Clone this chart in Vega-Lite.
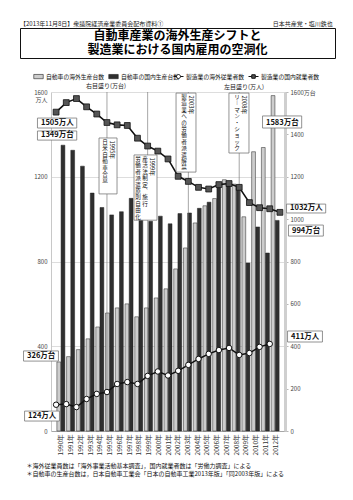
{
  "$schema": "https://vega.github.io/schema/vega-lite/v6.json",
  "autosize": {"type": "pad"},
  "padding": {"left": 19, "right": 18, "top": 20, "bottom": 22},
  "background": "white",
  "config": {
    "font": "Noto Sans CJK JP",
    "view": {"stroke": null},
    "legend": {"labelFont": "Noto Sans CJK JP", "titleFont": "Noto Sans CJK JP"},
    "axis": {"labelFont": "Noto Sans CJK JP", "titleFont": "Noto Sans CJK JP"}
  },
  "spacing": 12,
  "datasets": {
    "years": [
      {"year": 1990, "overseas_production": 326, "domestic_production": 1349, "overseas_employees": 124, "domestic_employees": 1505},
      {"year": 1991, "overseas_production": 351, "domestic_production": 1325, "overseas_employees": 127, "domestic_employees": 1550},
      {"year": 1992, "overseas_production": 384, "domestic_production": 1250, "overseas_employees": 113, "domestic_employees": 1569},
      {"year": 1993, "overseas_production": 435, "domestic_production": 1123, "overseas_employees": 151, "domestic_employees": 1530},
      {"year": 1994, "overseas_production": 491, "domestic_production": 1055, "overseas_employees": 175, "domestic_employees": 1496},
      {"year": 1995, "overseas_production": 557, "domestic_production": 1020, "overseas_employees": 184, "domestic_employees": 1456},
      {"year": 1996, "overseas_production": 581, "domestic_production": 1035, "overseas_employees": 222, "domestic_employees": 1445},
      {"year": 1997, "overseas_production": 600, "domestic_production": 1098, "overseas_employees": 231, "domestic_employees": 1442},
      {"year": 1998, "overseas_production": 539, "domestic_production": 1005, "overseas_employees": 222, "domestic_employees": 1382},
      {"year": 1999, "overseas_production": 581, "domestic_production": 990, "overseas_employees": 260, "domestic_employees": 1345},
      {"year": 2000, "overseas_production": 628, "domestic_production": 1014, "overseas_employees": 281, "domestic_employees": 1321},
      {"year": 2001, "overseas_production": 671, "domestic_production": 978, "overseas_employees": 262, "domestic_employees": 1284},
      {"year": 2002, "overseas_production": 765, "domestic_production": 1026, "overseas_employees": 284, "domestic_employees": 1202},
      {"year": 2003, "overseas_production": 864, "domestic_production": 1029, "overseas_employees": 312, "domestic_employees": 1178},
      {"year": 2004, "overseas_production": 982, "domestic_production": 1051, "overseas_employees": 340, "domestic_employees": 1150},
      {"year": 2005, "overseas_production": 1063, "domestic_production": 1080, "overseas_employees": 364, "domestic_employees": 1142},
      {"year": 2006, "overseas_production": 1097, "domestic_production": 1148, "overseas_employees": 382, "domestic_employees": 1163},
      {"year": 2007, "overseas_production": 1186, "domestic_production": 1160, "overseas_employees": 392, "domestic_employees": 1168},
      {"year": 2008, "overseas_production": 1165, "domestic_production": 1156, "overseas_employees": 359, "domestic_employees": 1150},
      {"year": 2009, "overseas_production": 1011, "domestic_production": 793, "overseas_employees": 368, "domestic_employees": 1078},
      {"year": 2010, "overseas_production": 1318, "domestic_production": 963, "overseas_employees": 397, "domestic_employees": 1054},
      {"year": 2011, "overseas_production": 1338, "domestic_production": 840, "overseas_employees": 411, "domestic_employees": 1049},
      {"year": 2012, "overseas_production": 1583, "domestic_production": 994, "overseas_employees": null, "domestic_employees": 1032}
    ],
    "events": [
      {"year": 1995, "x1": 1994.22, "x2": 1995.99, "top": 1383, "bottom": 1119, "a": "1995年", "b": "日\n米\n自\n動\n車\n合\n意"},
      {"year": 1999, "x1": 1997.66, "x2": 1999.92, "top": 1303, "bottom": 995, "a": "1999年", "b": "産\n活\n法\n制\n定\n︑\n施\n行", "c": "労\n働\n者\n派\n遣\n原\n則\n自\n由\n化"},
      {"year": 2003, "x1": 2001.79, "x2": 2003.75, "top": 1595, "bottom": 1222, "a": "2003年", "b": "製\n造\n業\nへ\nの\n労\n働\n者\n派\n遣\n解\n禁"},
      {"year": 2008, "x1": 2006.99, "x2": 2008.96, "top": 1595, "bottom": 1312, "a": "2008年", "b": "リ\n︱\nマ\nン\n・\nシ\nョ\nッ\nク"}
    ],
    "labels": [
      {"label": "1505万人", "x1": 1988.17, "x2": 1992.03, "y1": 1430, "y2": 1477},
      {"label": "1349万台", "x1": 1988.17, "x2": 1992.03, "y1": 1373, "y2": 1416},
      {"label": "326万台", "x1": 1986.8, "x2": 1990.23, "y1": 330, "y2": 378},
      {"label": "124万人", "x1": 1986.9, "x2": 1990.33, "y1": 47, "y2": 94},
      {"label": "1583万台", "x1": 2010.29, "x2": 2014.14, "y1": 1430, "y2": 1487},
      {"label": "1032万人", "x1": 2012.65, "x2": 2016.5, "y1": 1029, "y2": 1071},
      {"label": "994万台", "x1": 2012.84, "x2": 2016.27, "y1": 920, "y2": 972},
      {"label": "411万人", "x1": 2012.75, "x2": 2016.18, "y1": 420, "y2": 472}
    ]
  },
  "vconcat": [
    {
      "title": {"text": "【2013年11月8日】衆議院経済産業委員会配布資料①　　　　　　　　　　　　　　　　　　 日本共産党・塩川鉄也", "anchor": "start", "fontSize": 6, "fontWeight": "normal", "color": "#222", "offset": 1},
      "width": 315,
      "height": 30,
      "view": {"stroke": "#111", "strokeWidth": 1},
      "data": {"values": [{"line": 1, "heading": "自動車産業の海外生産シフトと"}, {"line": 2, "heading": "製造業における国内雇用の空洞化"}]},
      "mark": {"type": "text", "fontSize": 12, "fontWeight": "bold", "align": "center", "baseline": "middle", "color": "#000"},
      "encoding": {
        "y": {"field": "line", "type": "ordinal", "scale": {"padding": 0.6}, "axis": null},
        "text": {"field": "heading", "type": "nominal"}
      }
    },
    {
      "spacing": 0,
      "hconcat": [
        {
          "width": 3,
          "height": 1,
          "data": {"values": [{"blank": ""}]},
          "mark": {"type": "text"},
          "encoding": {"text": {"field": "blank", "type": "nominal"}}
        },
        {
          "width": 234,
          "height": 339,
          "data": {"name": "years"},
          "layer": [
            {
              "layer": [
                {
                  "mark": {"type": "bar", "width": 3.8, "xOffset": -2.1, "stroke": "#222", "strokeWidth": 0.5},
                  "encoding": {
                    "x": {
                      "field": "year", "type": "quantitative",
                      "scale": {"domain": [1989.5, 2012.5], "nice": false, "zero": false},
                      "axis": {
                        "orient": "bottom",
                        "values": [1990, 1991, 1992, 1993, 1994, 1995, 1996, 1997, 1998, 1999, 2000, 2001, 2002, 2003, 2004, 2005, 2006, 2007, 2008, 2009, 2010, 2011, 2012],
                        "labelExpr": "datum.value + '年'",
                        "labelAngle": 270, "labelAlign": "right", "labelBaseline": "middle",
                        "labelFontSize": 6.5, "labelColor": "#333", "labelPadding": 3,
                        "labelFlush": false, "labelOverlap": false,
                        "ticks": false, "grid": false,
                        "domain": true, "domainColor": "#999", "domainWidth": 0.8,
                        "title": "＊海外従業員数は「海外事業活動基本調査」，国内就業者数は「労働力調査」による",
                        "titleFontSize": 6, "titleFontWeight": "normal", "titleColor": "#111",
                        "titleAnchor": "start", "titleAlign": "left", "titleBaseline": "top",
                        "titleX": -25, "titleY": 31.5
                      }
                    },
                    "y": {
                      "field": "overseas_production", "type": "quantitative",
                      "scale": {"domain": [0, 1600], "nice": false},
                      "axis": {
                        "orient": "right", "format": "d",
                        "values": [0, 200, 400, 600, 800, 1000, 1200, 1400, 1600],
                        "labelExpr": "datum.value === 1600 ? '1600万台' : datum.label",
                        "labelFontSize": 6, "labelColor": "#444", "labelPadding": 2,
                        "ticks": true, "tickSize": 3, "tickColor": "#888", "tickWidth": 0.6,
                        "domain": true, "domainColor": "#cfcfcf", "domainWidth": 3,
                        "grid": false, "title": null
                      }
                    },
                    "fill": {
                      "datum": "自動車の海外生産台数", "type": "nominal",
                      "scale": {"domain": ["自動車の海外生産台数", "自動車の国内生産台数"], "range": ["#cdcdcd", "#2f2f2f"]},
                      "legend": {
                        "orient": "none", "legendX": -18, "legendY": -21, "direction": "horizontal",
                        "title": "右目盛り(万台)", "titleOrient": "bottom", "titleAnchor": "middle",
                        "titleFontSize": 6, "titleFontWeight": "normal", "titleColor": "#222", "titlePadding": 3,
                        "labelFontSize": 5.8, "labelColor": "#111", "labelOffset": 2, "columnPadding": 3,
                        "symbolType": "M-1,-0.45H1V0.45H-1Z", "symbolSize": 90,
                        "symbolStrokeColor": "#222", "symbolStrokeWidth": 0.6, "padding": 0
                      }
                    }
                  }
                },
                {
                  "mark": {"type": "bar", "width": 3.8, "xOffset": 2.1, "stroke": "#222", "strokeWidth": 0.5},
                  "encoding": {
                    "x": {
                      "field": "year", "type": "quantitative",
                      "scale": {"domain": [1989.5, 2012.5], "nice": false, "zero": false},
                      "axis": {
                        "orient": "bottom",
                        "values": [1990, 1991, 1992, 1993, 1994, 1995, 1996, 1997, 1998, 1999, 2000, 2001, 2002, 2003, 2004, 2005, 2006, 2007, 2008, 2009, 2010, 2011, 2012],
                        "labelExpr": "datum.value + '年'",
                        "labelAngle": 270, "labelAlign": "right", "labelBaseline": "middle",
                        "labelFontSize": 6.5, "labelColor": "#333", "labelPadding": 3,
                        "labelFlush": false, "labelOverlap": false,
                        "ticks": false, "grid": false,
                        "domain": true, "domainColor": "#999", "domainWidth": 0.8,
                        "title": "＊海外従業員数は「海外事業活動基本調査」，国内就業者数は「労働力調査」による",
                        "titleFontSize": 6, "titleFontWeight": "normal", "titleColor": "#111",
                        "titleAnchor": "start", "titleAlign": "left", "titleBaseline": "top",
                        "titleX": -25, "titleY": 31.5
                      }
                    },
                    "y": {"field": "domestic_production", "type": "quantitative"},
                    "fill": {"datum": "自動車の国内生産台数", "type": "nominal"}
                  }
                }
              ]
            },
            {
              "layer": [
                {
                  "data": {"name": "events"},
                  "mark": {"type": "rule", "color": "#6a6a6a", "strokeWidth": 0.6},
                  "encoding": {"x": {"field": "year", "type": "quantitative", "scale": {"domain": [1989.5, 2012.5], "nice": false, "zero": false}, "axis": null}}
                },
                {
                  "mark": {"type": "line", "strokeWidth": 1.5, "color": "#111111"},
                  "encoding": {
                    "x": {"field": "year", "type": "quantitative", "axis": null},
                    "y": {
                      "field": "overseas_employees", "type": "quantitative",
                      "scale": {"domain": [0, 1600], "nice": false},
                      "axis": {
                        "orient": "left", "format": "d",
                        "values": [0, 400, 800, 1200, 1600],
                        "labelExpr": "datum.value === 1600 ? ['1600', '万人'] : datum.label",
                        "labelFontSize": 6, "labelColor": "#444", "labelPadding": 4, "labelLineHeight": 7.5,
                        "ticks": false, "domain": true, "domainColor": "#c8c8c8", "domainWidth": 1,
                        "grid": true, "gridColor": "#cfcfcf", "gridWidth": 0.7,
                        "title": "＊自動車の生産台数は，日本自動車工業会「日本の自動車工業2013年版」「同2003年版」による",
                        "titleAngle": 0, "titleX": -25, "titleY": 378.5, "titleAlign": "left", "titleBaseline": "top",
                        "titleFontSize": 6, "titleFontWeight": "normal", "titleColor": "#111"
                      }
                    }
                  }
                },
                {
                  "mark": {"type": "line", "strokeWidth": 1.6, "color": "#111111"},
                  "encoding": {
                    "x": {"field": "year", "type": "quantitative", "axis": null},
                    "y": {"field": "domestic_employees", "type": "quantitative"}
                  }
                },
                {
                  "mark": {"type": "point", "shape": "circle", "filled": true, "fill": "#ffffff", "stroke": "#111111", "strokeWidth": 1, "size": 30, "opacity": 1},
                  "encoding": {
                    "x": {"field": "year", "type": "quantitative", "axis": null},
                    "y": {"field": "overseas_employees", "type": "quantitative"}
                  }
                },
                {
                  "mark": {"type": "point", "shape": "square", "filled": true, "fill": "#555555", "stroke": "#111111", "strokeWidth": 0.8, "size": 34, "opacity": 1},
                  "encoding": {
                    "x": {"field": "year", "type": "quantitative", "axis": null},
                    "y": {"field": "domestic_employees", "type": "quantitative"}
                  }
                },
                {
                  "mark": {"type": "point", "filled": true, "fill": "#ffffff", "stroke": "#111111", "strokeWidth": 1, "size": 30, "opacity": 0},
                  "encoding": {
                    "x": {"field": "year", "type": "quantitative", "axis": null},
                    "y": {"field": "overseas_employees", "type": "quantitative"},
                    "shape": {
                      "datum": "製造業の海外従業者数", "type": "nominal",
                      "scale": {"domain": ["製造業の海外従業者数"], "range": ["M-1,0H-0.4M0.4,0H1M-0.4,0A0.4,0.4,0,1,0,0.4,0A0.4,0.4,0,1,0,-0.4,0Z"]},
                      "legend": {
                        "orient": "none", "legendX": 122, "legendY": -21, "direction": "horizontal",
                        "title": "左目盛り(万人)", "titleOrient": "bottom", "titleAnchor": "end", "titleAlign": "center",
                        "titleFontSize": 6, "titleFontWeight": "normal", "titleColor": "#222", "titlePadding": 3,
                        "labelFontSize": 5.8, "labelColor": "#111", "labelOffset": 2,
                        "symbolSize": 100, "symbolStrokeWidth": 1, "symbolOpacity": 1, "padding": 0
                      }
                    }
                  }
                },
                {
                  "mark": {"type": "point", "filled": true, "fill": "#555555", "stroke": "#111111", "strokeWidth": 1, "size": 30, "opacity": 0},
                  "encoding": {
                    "x": {"field": "year", "type": "quantitative", "axis": null},
                    "y": {"field": "domestic_employees", "type": "quantitative"},
                    "shape": {
                      "datum": "製造業の国内就業者数", "type": "nominal",
                      "scale": {"domain": ["製造業の国内就業者数"], "range": ["M-1,0H-0.35M0.35,0H1M-0.35,-0.35H0.35V0.35H-0.35Z"]},
                      "legend": {
                        "orient": "none", "legendX": 197, "legendY": -21, "direction": "horizontal",
                        "title": null,
                        "labelFontSize": 5.8, "labelColor": "#111", "labelOffset": 2,
                        "symbolSize": 100, "symbolStrokeWidth": 1, "symbolOpacity": 1, "padding": 0
                      }
                    }
                  }
                },
                {
                  "data": {"name": "events"},
                  "mark": {"type": "rect", "fill": "#ffffff", "stroke": "#666666", "strokeWidth": 0.7},
                  "encoding": {
                    "x": {"field": "x1", "type": "quantitative", "axis": null},
                    "x2": {"field": "x2"},
                    "y": {"field": "top", "type": "quantitative"},
                    "y2": {"field": "bottom"}
                  }
                },
                {
                  "data": {"name": "events"},
                  "mark": {"type": "text", "angle": 90, "align": "left", "baseline": "middle", "fontSize": 5.8, "color": "#111", "xOffset": -5, "yOffset": 2.5},
                  "encoding": {
                    "x": {"field": "x2", "type": "quantitative", "axis": null},
                    "y": {"field": "top", "type": "quantitative"},
                    "text": {"field": "a", "type": "nominal"}
                  }
                },
                {
                  "data": {"name": "events"},
                  "mark": {"type": "text", "align": "center", "baseline": "top", "fontSize": 5.6, "lineHeight": 6.4, "lineBreak": "\n", "color": "#111", "xOffset": -12, "yOffset": 2},
                  "encoding": {
                    "x": {"field": "x2", "type": "quantitative", "axis": null},
                    "y": {"field": "top", "type": "quantitative"},
                    "text": {"field": "b", "type": "nominal"}
                  }
                },
                {
                  "data": {"name": "events"},
                  "transform": [{"filter": "isValid(datum.c)"}],
                  "mark": {"type": "text", "align": "center", "baseline": "top", "fontSize": 5.6, "lineHeight": 6.4, "lineBreak": "\n", "color": "#111", "xOffset": -19, "yOffset": 2},
                  "encoding": {
                    "x": {"field": "x2", "type": "quantitative", "axis": null},
                    "y": {"field": "top", "type": "quantitative"},
                    "text": {"field": "c", "type": "nominal"}
                  }
                },
                {
                  "data": {"name": "labels"},
                  "mark": {"type": "rect", "fill": "#ffffff", "stroke": "#777777", "strokeWidth": 0.8},
                  "encoding": {
                    "x": {"field": "x1", "type": "quantitative", "axis": null},
                    "x2": {"field": "x2"},
                    "y": {"field": "y2", "type": "quantitative"},
                    "y2": {"field": "y1"}
                  }
                },
                {
                  "data": {"name": "labels"},
                  "mark": {"type": "text", "align": "left", "baseline": "middle", "fontSize": 7.5, "fontWeight": "bold", "color": "#111", "xOffset": 3.5, "yOffset": -5.2},
                  "encoding": {
                    "x": {"field": "x1", "type": "quantitative", "axis": null},
                    "y": {"field": "y1", "type": "quantitative"},
                    "text": {"field": "label", "type": "nominal"}
                  }
                }
              ],
              "resolve": {"scale": {"shape": "independent"}}
            }
          ],
          "resolve": {"scale": {"x": "independent", "y": "independent", "fill": "independent"}}
        }
      ]
    }
  ]
}
